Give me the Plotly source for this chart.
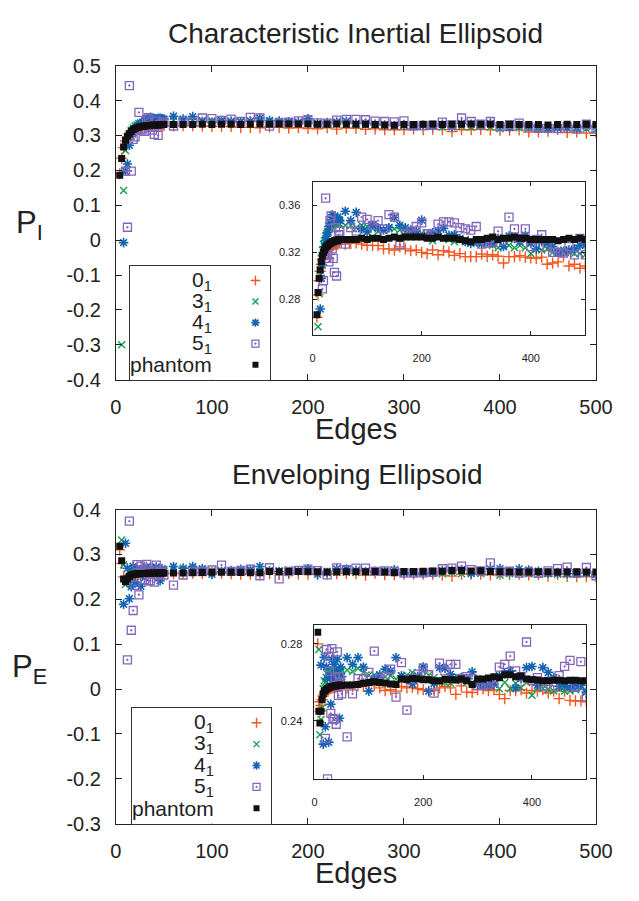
import plotly.graph_objects as go

# ---------------- data ----------------
edges = [4, 6, 8, 10, 12, 14, 16, 18, 20, 22, 24, 26, 28, 30, 32, 34, 36, 38, 40, 42, 44, 46, 48, 50,
         60, 70, 80, 90, 100, 110, 120, 130, 140, 150, 160, 170, 180, 190, 200,
         210, 220, 230, 240, 250, 260, 270, 280, 290, 300,
         310, 320, 330, 340, 350, 360, 370, 380, 390, 400,
         410, 420, 430, 440, 450, 460, 470, 480, 490, 500]

# Characteristic inertial ellipsoid, P_I
pi_0_1 = [0.190, 0.235, 0.265, 0.284, 0.296, 0.304, 0.310, 0.314, 0.317, 0.319, 0.321, 0.322,
          0.323, 0.324, 0.325, 0.325, 0.326, 0.326, 0.327, 0.327, 0.327, 0.327, 0.328, 0.328,
          0.327, 0.3277, 0.328, 0.327, 0.326, 0.326, 0.3258, 0.323, 0.323, 0.322, 0.3247, 0.323,
          0.3214, 0.322, 0.320, 0.319, 0.322, 0.318, 0.3214, 0.3203, 0.3175, 0.319, 0.3164, 0.3164,
          0.3164, 0.3186, 0.3167, 0.318, 0.3167, 0.311, 0.3164, 0.3164, 0.3173, 0.316, 0.3153,
          0.315, 0.316, 0.310, 0.311, 0.312, 0.3175, 0.3085, 0.310, 0.3066, 0.3085]
pi_3_1 = [None, -0.300, 0.142, 0.257, 0.285, 0.305, 0.315, 0.322, 0.327, 0.330, 0.334, 0.336,
          0.338, 0.340, 0.341, 0.342, 0.343, 0.344, 0.344, 0.345, 0.344, 0.344, 0.345, 0.344,
          0.343, 0.343, 0.341, 0.343, 0.342, 0.340, 0.338, 0.339, 0.341, 0.340, 0.339, 0.337,
          0.336, 0.335, 0.336, 0.333, 0.330, 0.333, 0.332, 0.331, 0.329, 0.331, 0.331, 0.329,
          0.328, 0.327, 0.330, 0.326, 0.324, 0.325, 0.326, 0.324, 0.326, 0.324, 0.319,
          0.323, 0.322, 0.323, 0.320, 0.321, 0.322, 0.321, 0.319, 0.319, 0.318]
pi_4_1 = [None, None, -0.007, 0.198, 0.218, 0.272, 0.298, 0.309, 0.320, 0.325, 0.330, 0.334,
          0.337, 0.342, 0.345, 0.348, 0.352, 0.350, 0.348, 0.347, 0.349, 0.350, 0.348, 0.347,
          0.355, 0.347, 0.354, 0.340, 0.3373, 0.343, 0.341, 0.339, 0.341, 0.3496, 0.343, 0.341,
          0.339, 0.338, 0.3474, 0.3345, 0.3367, 0.3386, 0.3405, 0.3345, 0.335, 0.3318, 0.329, 0.3277,
          0.329, 0.3277, 0.329, 0.3277, 0.3318, 0.325, 0.334, 0.332, 0.329, 0.3345, 0.3277,
          0.323, 0.329, 0.3277, 0.325, 0.3203, 0.321, 0.322, 0.323, 0.326, 0.326]
pi_5_1 = [None, None, None, 0.198, 0.037, 0.443, 0.198, 0.289, 0.296, 0.318, 0.366, 0.315,
          0.318, 0.312, 0.347, 0.351, 0.323, 0.315, 0.303, 0.341, 0.300, 0.330, 0.335, 0.338,
          0.327, 0.341, 0.338, 0.350, 0.348, 0.343, 0.347, 0.340, 0.352, 0.350, 0.3265, 0.336,
          0.338, 0.342, 0.345, 0.336, 0.335, 0.344, 0.346, 0.346, 0.345, 0.341, 0.340, 0.339,
          0.342, 0.327, 0.328, 0.329, 0.338, 0.330, 0.350, 0.340, 0.332, 0.340, 0.325,
          0.331, 0.335, 0.325, 0.320, 0.320, 0.3195, 0.325, 0.318, 0.332, 0.318]
pi_phantom = [0.186, 0.234, 0.267, 0.286, 0.298, 0.305, 0.312, 0.317, 0.320, 0.322, 0.324, 0.325,
              0.326, 0.327, 0.328, 0.328, 0.329, 0.329, 0.330, 0.330, 0.330, 0.330, 0.331, 0.331,
              0.331, 0.331, 0.331, 0.332, 0.331, 0.332, 0.332, 0.331, 0.332, 0.333, 0.332, 0.333,
              0.333, 0.333, 0.333, 0.332, 0.332, 0.333, 0.332, 0.332, 0.332, 0.331, 0.330, 0.329,
              0.331, 0.331, 0.332, 0.333, 0.331, 0.332, 0.332, 0.333, 0.332, 0.332, 0.331,
              0.331, 0.331, 0.331, 0.331, 0.330, 0.331, 0.332, 0.331, 0.332, 0.331]

# Enveloping ellipsoid, P_E
pe_0_1 = [0.310, 0.280, 0.250, 0.245, 0.248, 0.251, 0.253, 0.254, 0.255, 0.2555, 0.256, 0.2565,
          0.257, 0.257, 0.2572, 0.2574, 0.2575, 0.2576, 0.2577, 0.2578, 0.2579, 0.258, 0.258, 0.258,
          0.2572, 0.2579, 0.2584, 0.2579, 0.2592, 0.2584, 0.2572, 0.2558, 0.2562, 0.2555, 0.2579, 0.2572,
          0.2575, 0.2567, 0.2562, 0.2555, 0.2558, 0.2572, 0.2579, 0.2572, 0.2538, 0.2582, 0.2550, 0.2548,
          0.2562, 0.2567, 0.2558, 0.2562, 0.2538, 0.2516, 0.2558, 0.2558, 0.2562, 0.2545, 0.2558,
          0.2555, 0.2562, 0.2545, 0.2555, 0.2516, 0.2555, 0.2507, 0.2504, 0.2504, 0.2499]
pe_3_1 = [None, 0.332, 0.2771, 0.2328, 0.2408, 0.247, 0.2567, 0.2609, 0.260, 0.2626, 0.2643, 0.266,
          0.2655, 0.2666, 0.2652, 0.264, 0.2645, 0.266, 0.265, 0.2665, 0.2655, 0.265, 0.266, 0.2664,
          0.2664, 0.2657, 0.2674, 0.2652, 0.2638, 0.2638, 0.2635, 0.263, 0.2635, 0.2618, 0.2635, 0.2638,
          0.2652, 0.2635, 0.2632, 0.2638, 0.2626, 0.260, 0.260, 0.2596, 0.2618, 0.2609, 0.260, 0.260,
          0.2592, 0.2584, 0.2584, 0.2592, 0.2567, 0.260, 0.2567, 0.2596, 0.2572, 0.260, 0.2533,
          0.2572, 0.2567, 0.2562, 0.2555, 0.2567, 0.2555, 0.2555, 0.2562, 0.2572, 0.2555]
pe_4_1 = [None, None, 0.189, 0.325, 0.269, 0.201, 0.228, 0.273, 0.237, 0.268, 0.262, 0.229,
          0.2635, 0.2487, 0.272, 0.262, 0.2694, 0.262, 0.266, 0.272, 0.260, 0.2414, 0.268, 0.263,
          0.2729, 0.2694, 0.2729, 0.268, 0.2555, 0.262, 0.264, 0.2669, 0.266, 0.2729, 0.2635, 0.262,
          0.2592, 0.263, 0.268, 0.2555, 0.2595, 0.2677, 0.2674, 0.2643, 0.262, 0.2625, 0.262, 0.2655,
          0.259, 0.2585, 0.2585, 0.259, 0.2635, 0.2645, 0.266, 0.2572, 0.262, 0.2677, 0.2683,
          0.2585, 0.2677, 0.2652, 0.2625, 0.258, 0.258, 0.2575, 0.258, 0.2585, 0.255]
pe_5_1 = [None, None, None, None, 0.065, 0.374, 0.131, 0.175, 0.231, 0.2771, 0.210, 0.2737,
          0.2657, 0.2439, 0.2776, 0.2414, 0.2408, 0.2626, 0.2383, 0.2759, 0.2533, 0.263, 0.2601, 0.2541,
          0.2317, 0.2541, 0.262, 0.2618, 0.2652, 0.2763, 0.262, 0.263, 0.2669, 0.2524, 0.2703, 0.2456,
          0.262, 0.2643, 0.2674, 0.264, 0.2545, 0.270, 0.266, 0.2694, 0.2694, 0.262, 0.263, 0.262,
          0.2585, 0.2585, 0.259, 0.260, 0.268, 0.2694, 0.2737, 0.266, 0.263, 0.281, 0.261,
          0.2625, 0.2584, 0.2605, 0.258, 0.2635, 0.2683, 0.2715, 0.2575, 0.2708, 0.2524]
pe_phantom = [0.318, 0.286, 0.245, 0.239, 0.245, 0.251, 0.254, 0.2555, 0.256, 0.2565, 0.257, 0.2572,
              0.2575, 0.2577, 0.2578, 0.258, 0.258, 0.2582, 0.2583, 0.2584, 0.2585, 0.2585, 0.2586, 0.2586,
              0.2587, 0.2587, 0.2589, 0.2596, 0.2600, 0.2604, 0.2600, 0.2597, 0.2592, 0.2589, 0.2618, 0.2614,
              0.2621, 0.2618, 0.2614, 0.2614, 0.2609, 0.2609, 0.2616, 0.2614, 0.2613, 0.2618, 0.2609, 0.2589,
              0.2618, 0.2618, 0.2623, 0.2630, 0.2625, 0.2640, 0.2640, 0.2630, 0.2633, 0.2618, 0.2614,
              0.2613, 0.2609, 0.2609, 0.2612, 0.2611, 0.2609, 0.2611, 0.2611, 0.2609, 0.2609]

series_names = ["0<sub>1</sub>", "3<sub>1</sub>", "4<sub>1</sub>", "5<sub>1</sub>", "phantom"]
series_pi = [pi_0_1, pi_3_1, pi_4_1, pi_5_1, pi_phantom]
series_pe = [pe_0_1, pe_3_1, pe_4_1, pe_5_1, pe_phantom]

main_xticks = [0, 100, 200, 300, 400, 500]
pi_yticks = [-0.4, -0.3, -0.2, -0.1, 0, 0.1, 0.2, 0.3, 0.4, 0.5]
pi_yticktext = ["-0.4", "-0.3", "-0.2", "-0.1", "0", "0.1", "0.2", "0.3", "0.4", "0.5"]
pe_yticks = [-0.3, -0.2, -0.1, 0, 0.1, 0.2, 0.3, 0.4]
pe_yticktext = ["-0.3", "-0.2", "-0.1", "0", "0.1", "0.2", "0.3", "0.4"]
inset_xticks = [0, 200, 400]
inset_pi_yticks = [0.28, 0.32, 0.36]
inset_pe_yticks = [0.24, 0.28]

# ---------------- styles ----------------
W, H = 639, 901
FONT = "Liberation Sans, Arial, Helvetica, sans-serif"
TXT = "#222222"
styles = [
    dict(symbol="cross-thin-open", size=8, color="#F4561E", lw=1.4),
    dict(symbol="x-thin-open", size=7, color="#11A04E", lw=1.4),
    dict(symbol="asterisk-open", size=8, color="#1463B4", lw=1.6),
    dict(symbol="square-open-dot", size=8, color="#8366BA", lw=1.3),
    dict(symbol="square", size=7, color="#111111", lw=0),
]


def px_x(p):
    return p / W


def px_y(p):
    return 1 - p / H


fig = go.Figure()

subplots = [("x", "y", series_pi), ("x3", "y3", series_pi), ("x2", "y2", series_pe), ("x4", "y4", series_pe)]
for xa, ya, sers in subplots:
    for st, ys in zip(styles, sers):
        fig.add_trace(go.Scatter(
            x=edges, y=ys, mode="markers", xaxis=xa, yaxis=ya, showlegend=False, hoverinfo="skip",
            marker=dict(symbol=st["symbol"], size=st["size"], color=st["color"],
                        line=dict(color=st["color"], width=st["lw"]))))

# custom legends (text right-aligned, symbol on the right)
legend_rows = [4, 3, 2, 1, 0]
for xa, ya in [("x5", "y5"), ("x6", "y6")]:
    for st, row in zip(styles, legend_rows):
        fig.add_trace(go.Scatter(
            x=[0.895], y=[row], mode="markers", xaxis=xa, yaxis=ya, showlegend=False, hoverinfo="skip",
            marker=dict(symbol=st["symbol"], size=st["size"] - 1, color=st["color"],
                        line=dict(color=st["color"], width=st["lw"]))))

axis_base = dict(showline=True, linecolor=TXT, linewidth=1, mirror="ticks", ticks="inside",
                 tickcolor=TXT, showgrid=False, zeroline=False, fixedrange=True)
main_font = dict(family=FONT, size=20, color=TXT)
inset_font = dict(family=FONT, size=11, color=TXT)

main_x_dom = [px_x(114), px_x(612)]
p1_y_dom = [px_y(378), px_y(56)]
p2_y_dom = [px_y(833), px_y(511)]
in1_x_dom = [px_x(318), px_x(601)]
in1_y_dom = [px_y(332), px_y(175)]
in2_x_dom = [px_x(320), px_x(602)]
in2_y_dom = [px_y(787), px_y(629)]
lg1_x_dom = [px_x(129), px_x(274)]
lg1_y_dom = [px_y(378), px_y(261)]
lg2_x_dom = [px_x(131), px_x(275)]
lg2_y_dom = [px_y(833), px_y(714)]

legend_axis = dict(showline=True, linecolor="#333333", linewidth=1, mirror=True, ticks="",
                   showticklabels=False, showgrid=False, zeroline=False, fixedrange=True)

fig.update_layout(
    width=W, height=H, margin=dict(l=0, r=0, t=0, b=0),
    paper_bgcolor="white", plot_bgcolor="white", showlegend=False,
    font=dict(family=FONT, color=TXT),
    xaxis=dict(axis_base, domain=main_x_dom, anchor="y", range=[0, 500], tickvals=main_xticks,
               ticktext=[str(v) for v in main_xticks], tickfont=main_font, ticklen=6, ticklabelstandoff=9),
    yaxis=dict(axis_base, domain=p1_y_dom, anchor="x", range=[-0.4, 0.5], tickvals=pi_yticks,
               ticktext=pi_yticktext, tickfont=main_font, ticklen=6, ticklabelstandoff=10),
    xaxis2=dict(axis_base, domain=main_x_dom, anchor="y2", range=[0, 500], tickvals=main_xticks,
                ticktext=[str(v) for v in main_xticks], tickfont=main_font, ticklen=6, ticklabelstandoff=9),
    yaxis2=dict(axis_base, domain=p2_y_dom, anchor="x2", range=[-0.3, 0.4], tickvals=pe_yticks,
                ticktext=pe_yticktext, tickfont=main_font, ticklen=6, ticklabelstandoff=10),
    xaxis3=dict(axis_base, domain=in1_x_dom, anchor="y3", range=[0, 500], tickvals=inset_xticks,
                ticktext=[str(v) for v in inset_xticks], tickfont=inset_font, ticklen=4, ticklabelstandoff=13),
    yaxis3=dict(axis_base, domain=in1_y_dom, anchor="x3", range=[0.25, 0.38], tickvals=inset_pi_yticks,
                ticktext=["%.2f" % v for v in inset_pi_yticks], tickfont=inset_font, ticklen=4, ticklabelstandoff=9),
    xaxis4=dict(axis_base, domain=in2_x_dom, anchor="y4", range=[0, 500], tickvals=inset_xticks,
                ticktext=[str(v) for v in inset_xticks], tickfont=inset_font, ticklen=4, ticklabelstandoff=13),
    yaxis4=dict(axis_base, domain=in2_y_dom, anchor="x4", range=[0.21, 0.29], tickvals=inset_pe_yticks,
                ticktext=["%.2f" % v for v in inset_pe_yticks], tickfont=inset_font, ticklen=4, ticklabelstandoff=9),
    xaxis5=dict(legend_axis, domain=lg1_x_dom, anchor="y5", range=[0, 1]),
    yaxis5=dict(legend_axis, domain=lg1_y_dom, anchor="x5", range=[-0.72, 4.71]),
    xaxis6=dict(legend_axis, domain=lg2_x_dom, anchor="y6", range=[0, 1]),
    yaxis6=dict(legend_axis, domain=lg2_y_dom, anchor="x6", range=[-0.72, 4.71]),
)

ann = []
title_font = dict(family=FONT, size=28, color=TXT)
label_font = dict(family=FONT, size=29, color=TXT)
ann.append(dict(text="Characteristic Inertial Ellipsoid", x=px_x(363), y=px_y(23), xref="paper", yref="paper",
                showarrow=False, xanchor="center", yanchor="middle", font=title_font))
ann.append(dict(text="Enveloping Ellipsoid", x=px_x(365), y=px_y(475), xref="paper", yref="paper",
                showarrow=False, xanchor="center", yanchor="middle", font=title_font))
ann.append(dict(text="Edges", x=px_x(363), y=px_y(428), xref="paper", yref="paper",
                showarrow=False, xanchor="center", yanchor="middle", font=label_font))
ann.append(dict(text="Edges", x=px_x(363), y=px_y(884), xref="paper", yref="paper",
                showarrow=False, xanchor="center", yanchor="middle", font=label_font))
ann.append(dict(text="P<sub>I</sub>", x=px_x(24), y=px_y(219), xref="paper", yref="paper",
                showarrow=False, xanchor="center", yanchor="middle", font=dict(family=FONT, size=31, color=TXT)))
ann.append(dict(text="P<sub>E</sub>", x=px_x(24), y=px_y(674), xref="paper", yref="paper",
                showarrow=False, xanchor="center", yanchor="middle", font=dict(family=FONT, size=31, color=TXT)))
for xa, ya in [("x5", "y5"), ("x6", "y6")]:
    for name, row in zip(series_names, legend_rows):
        ann.append(dict(text=name, x=0.60, y=row, xref=xa, yref=ya, showarrow=False,
                        xanchor="right", yanchor="middle", font=dict(family=FONT, size=21, color=TXT)))
fig.update_layout(annotations=ann)

fig.write_html("out.html", config={"displayModeBar": False},
               post_script="document.body.style.margin='0';document.body.style.padding='0';")
